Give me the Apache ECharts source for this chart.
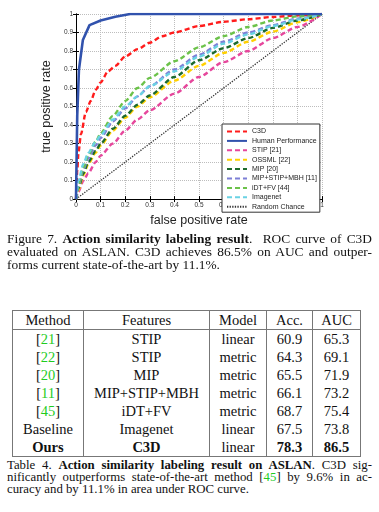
<!DOCTYPE html>
<html>
<head>
<meta charset="utf-8">
<script src="https://cdn.jsdelivr.net/npm/echarts@6/dist/echarts.min.js"></script>
<style>
  html, body { margin:0; padding:0; background:#fff; width:379px; height:512px; overflow:hidden; }
  #chart { position:absolute; left:0; top:0; width:379px; height:232px; }
  .cap { position:absolute; left:7px; width:365px; font-family:"Liberation Serif","Times New Roman",serif; color:#111; }
  .cap div { white-space:nowrap; text-align:justify; text-align-last:justify; }
  .cap div.last { text-align-last:left; }
  #cap1 { top:232px; font-size:13.4px; line-height:13px; }
  #cap2 { top:458.6px; font-size:12.8px; line-height:12.2px; }
  #tbl { position:absolute; left:12px; top:310px; border-collapse:collapse; table-layout:fixed;
         font-family:"Liberation Serif","Times New Roman",serif; font-size:14.5px; color:#111; }
  #tbl td, #tbl th { border-left:1px solid #777; border-right:1px solid #777; padding:0; text-align:center;
         height:18px; line-height:18px; font-weight:normal; white-space:nowrap; }
  #tbl thead th { border-top:1px solid #777; border-bottom:1px solid #777; }
  #tbl tbody tr:last-child td { border-bottom:1px solid #777; }
  .ref { color:#1fcc1f; }
  .b, #tbl td.b { font-weight:bold; }
</style>
</head>
<body>
<div id="chart"></div>
<div class="cap" id="cap1"></div>
<table id="tbl"><colgroup></colgroup><thead><tr></tr></thead><tbody></tbody></table>
<div class="cap" id="cap2"></div>
<script>
// ---------- chart data ----------
const fprTickLabels = ['0','0.1','0.2','0.3','0.4','0.5','0.6','0.7','0.8','0.9','1'];
const tprTickLabels = ['0','0.1','0.2','0.3','0.4','0.5','0.6','0.7','0.8','0.9','1'];

const seriesNames = ['C3D','Human Performance','STIP [21]','OSSML [22]','MIP [20]','MIP+STIP+MBH [11]','iDT+FV [44]','Imagenet','Random Chance'];

const c3dCurve = [[0,0],[0.005,0.15],[0.01,0.25],[0.02,0.35],[0.04,0.47],[0.06,0.53],[0.08,0.59],[0.1,0.63],[0.13,0.69],[0.16,0.72],[0.2,0.77],[0.25,0.81],[0.3,0.845],[0.35,0.88],[0.4,0.9],[0.5,0.935],[0.6,0.958],[0.7,0.972],[0.8,0.984],[0.9,0.993],[1,1]];
const humanCurve = [[0,0],[0.005,0.45],[0.012,0.7],[0.028,0.86],[0.055,0.94],[0.1,0.965],[0.16,0.985],[0.22,1],[1,1]];
const stipCurve = [[0,0],[0.01,0.04],[0.03,0.1],[0.05,0.14],[0.08,0.2],[0.1,0.235],[0.15,0.3],[0.2,0.37],[0.25,0.43],[0.3,0.48],[0.4,0.57],[0.5,0.66],[0.6,0.74],[0.7,0.8],[0.8,0.87],[0.9,0.93],[1,1]];
const ossmlCurve = [[0,0],[0.01,0.05],[0.03,0.13],[0.05,0.19],[0.08,0.25],[0.1,0.29],[0.15,0.37],[0.2,0.44],[0.25,0.5],[0.3,0.55],[0.4,0.64],[0.5,0.72],[0.6,0.79],[0.7,0.85],[0.8,0.905],[0.9,0.955],[1,1]];
const mipCurve = [[0,0],[0.01,0.06],[0.03,0.14],[0.05,0.2],[0.08,0.26],[0.1,0.3],[0.15,0.38],[0.2,0.45],[0.25,0.51],[0.3,0.56],[0.4,0.66],[0.5,0.75],[0.6,0.815],[0.7,0.87],[0.8,0.925],[0.9,0.965],[1,1]];
const mipStipMbhCurve = [[0,0],[0.01,0.07],[0.03,0.16],[0.05,0.22],[0.08,0.29],[0.1,0.33],[0.15,0.42],[0.2,0.49],[0.25,0.555],[0.3,0.61],[0.4,0.7],[0.5,0.78],[0.6,0.85],[0.7,0.9],[0.8,0.94],[0.9,0.975],[1,1]];
const idtFvCurve = [[0,0],[0.01,0.08],[0.03,0.17],[0.05,0.24],[0.08,0.31],[0.1,0.355],[0.15,0.45],[0.2,0.53],[0.25,0.6],[0.3,0.655],[0.4,0.745],[0.5,0.82],[0.6,0.88],[0.7,0.93],[0.8,0.965],[0.9,0.987],[1,1]];
const imagenetCurve = [[0,0],[0.01,0.1],[0.03,0.19],[0.05,0.25],[0.08,0.31],[0.1,0.345],[0.15,0.43],[0.2,0.5],[0.25,0.555],[0.3,0.61],[0.4,0.69],[0.5,0.77],[0.6,0.84],[0.7,0.89],[0.8,0.935],[0.9,0.97],[1,1]];
const randomCurve = [[0,0],[1,1]];

// ---------- table data ----------
const tableHeader = ['Method','Features','Model','Acc.','AUC'];
const tableMethods = ['[21]','[22]','[20]','[11]','[45]','Baseline','Ours'];
const tableFeatures = ['STIP','STIP','MIP','MIP+STIP+MBH','iDT+FV','Imagenet','C3D'];
const tableModels = ['linear','metric','metric','metric','metric','linear','linear'];
const tableAcc = ['60.9','64.3','65.5','66.1','68.7','67.5','78.3'];
const tableAuc = ['65.3','69.1','71.9','73.2','75.4','73.8','86.5'];

// ---------- chart ----------
const chart = echarts.init(document.getElementById('chart'), null, {renderer:'canvas'});
const font = 'Liberation Sans, Arial, sans-serif';
function dashed(name, data, color) {
  return { name, type:'line', data, symbol:'none', smooth:0.25, smoothMonotone:'x', z:3,
    lineStyle:{ color, width:2.4, type:[5,3] }, itemStyle:{ color } };
}
const styles = [
  dashed(seriesNames[0], c3dCurve, '#ff1c1c'),
  { name:seriesNames[1], type:'line', data:humanCurve, symbol:'none', z:5,
    lineStyle:{ color:'#3152ad', width:2.6, type:'solid' }, itemStyle:{ color:'#3152ad' } },
  dashed(seriesNames[2], stipCurve, '#e6479c'),
  dashed(seriesNames[3], ossmlCurve, '#ffd000'),
  dashed(seriesNames[4], mipCurve, '#1d6a2d'),
  dashed(seriesNames[5], mipStipMbhCurve, '#7d7fd6'),
  dashed(seriesNames[6], idtFvCurve, '#6cc24a'),
  dashed(seriesNames[7], imagenetCurve, '#6ad2e4'),
  { name:seriesNames[8], type:'line', data:randomCurve, symbol:'none', z:2,
    lineStyle:{ color:'#333', width:1.3, type:[1.3,1.3] }, itemStyle:{ color:'#333' } }
];
const labelFmt = arr => v => arr[Math.round(v*10)];
const baseAxis = {
  type:'value', min:0, max:1, interval:0.1,
  axisLine:{ show:true, lineStyle:{ color:'#000', width:1 } },
  axisTick:{ show:true, inside:true, length:3, lineStyle:{ color:'#000' } }
};
chart.setOption({
  animation:false,
  grid:{ left:76, right:57, top:14, bottom:24, containLabel:false },
  xAxis:[
    Object.assign({}, baseAxis, {
      position:'bottom', name:'false positive rate', nameLocation:'middle', nameGap:10,
      nameTextStyle:{ fontFamily:font, fontSize:12.5, color:'#222' },
      axisLabel:{ formatter:labelFmt(fprTickLabels), fontFamily:font, fontSize:6.5, color:'#333', margin:3 },
      splitLine:{ show:true, lineStyle:{ color:'#bdbdbd', type:'dotted', width:1 } }
    }),
    Object.assign({}, baseAxis, { position:'top', axisLabel:{show:false}, splitLine:{show:false} })
  ],
  yAxis:[
    Object.assign({}, baseAxis, {
      position:'left', name:'true positive rate', nameLocation:'middle', nameGap:15,
      nameTextStyle:{ fontFamily:font, fontSize:12.5, color:'#222' },
      axisLabel:{ formatter:labelFmt(tprTickLabels), fontFamily:font, fontSize:6.5, color:'#333', margin:3 },
      splitLine:{ show:true, lineStyle:{ color:'#bdbdbd', type:'dotted', width:1 } }
    }),
    Object.assign({}, baseAxis, { position:'right', axisLabel:{show:false}, splitLine:{show:false} })
  ],
  legend:{
    data:seriesNames, orient:'vertical', left:222, top:124,
    padding:[4,3,2,4], backgroundColor:'#fff', borderColor:'#333', borderWidth:1, borderRadius:0,
    itemWidth:20, itemHeight:6, itemGap:2.4,
    itemStyle:{ color:'rgba(0,0,0,0)', borderWidth:0, opacity:0 },
    textStyle:{ fontFamily:font, fontSize:7, color:'#222', lineHeight:6 },
    selectedMode:false
  },
  series:styles
});

// ---------- captions & table (HTML text) ----------
const cap1Lines = [
  'Figure 7. <span class="b">Action similarity labeling result</span>.&nbsp; ROC curve of C3D',
  'evaluated on ASLAN. C3D achieves 86.5% on AUC and outper-',
  'forms current state-of-the-art by 11.1%.'
];
const cap2Lines = [
  'Table 4. <span class="b">Action similarity labeling result on ASLAN</span>. C3D sig-',
  'nificantly outperforms state-of-the-art method [<span class="ref">45</span>] by 9.6% in ac-',
  'curacy and by 11.1% in area under ROC curve.'
];
function fillCap(id, lines) {
  document.getElementById(id).innerHTML = lines.map((l,i) =>
    '<div' + (i === lines.length-1 ? ' class="last"' : '') + '>' + l + '</div>').join('');
}
fillCap('cap1', cap1Lines);
fillCap('cap2', cap2Lines);

const colWidths = [71, 126, 57, 46, 48];
const tbl = document.getElementById('tbl');
tbl.querySelector('colgroup').innerHTML = colWidths.map(w => '<col style="width:'+w+'px">').join('');
tbl.querySelector('thead tr').innerHTML = tableHeader.map(h => '<th>'+h+'</th>').join('');
const lastRow = tableMethods.length - 1;
tbl.querySelector('tbody').innerHTML = tableMethods.map((m, i) => {
  const isRef = m.startsWith('[');
  const method = isRef ? '[<span class="ref">' + m.slice(1, -1) + '</span>]' : m;
  const bold = i === lastRow;
  const cell = (txt, b) => '<td' + (b ? ' class="b"' : '') + '>' + txt + '</td>';
  return '<tr>' + cell(method, bold) + cell(tableFeatures[i], bold) + cell(tableModels[i], false) +
         cell(tableAcc[i], bold) + cell(tableAuc[i], bold) + '</tr>';
}).join('');
</script>
</body>
</html>
